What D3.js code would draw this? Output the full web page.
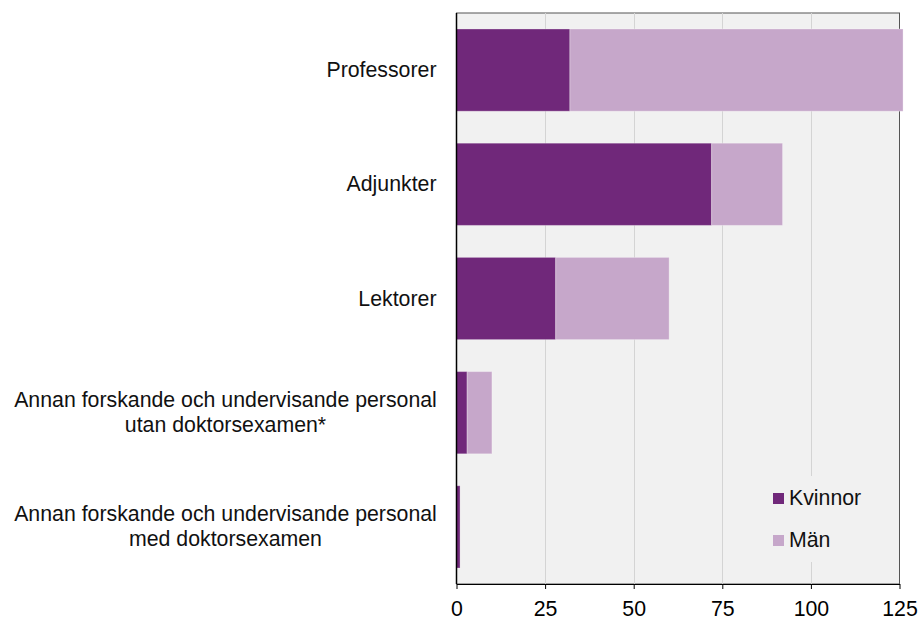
<!DOCTYPE html>
<html>
<head>
<meta charset="utf-8">
<script src="https://cdn.jsdelivr.net/npm/d3@7"></script>
<style>
  body { margin: 0; background: #fff; }
  svg { display: block; font-family: "Liberation Sans", Arial, sans-serif; }
</style>
</head>
<body>
<div id="chart"></div>
<script>
// categories (top to bottom)
const categories = [
  "Professorer",
  "Adjunkter",
  "Lektorer",
  "Annan forskande och undervisande personal|utan doktorsexamen*",
  "Annan forskande och undervisande personal|med doktorsexamen"
];
const kvinnor = [32, 72, 28, 3, 1];
const man = [94, 20, 32, 7, 0];
const seriesNames = ["Kvinnor", "Män"];
const tickValues = [0, 25, 50, 75, 100, 125];

// SIZE
const width = 922, height = 617;
const plotLeft = 456.5, plotRight = 899.5, plotTop = 13, plotBottom = 584;
const colorK = "#70287a", colorM = "#c6a7ca";
const fontSize = 21.3;

const svg = d3.select("#chart").append("svg")
  .attr("width", width)
  .attr("height", height);

const x = d3.scaleLinear().domain([0, 125]).range([plotLeft, plotRight]);
const y = d3.scaleBand().domain(categories).range([plotTop, plotBottom])
  .paddingInner(0.28).paddingOuter(0.14);

// plot background + frame
svg.append("rect")
  .attr("x", plotLeft).attr("y", plotTop)
  .attr("width", plotRight - plotLeft).attr("height", plotBottom - plotTop)
  .attr("fill", "#f1f1f1")
  .attr("stroke", "#555").attr("stroke-width", 1);

// grid lines
svg.append("g").selectAll("line")
  .data(tickValues.slice(1, -1))
  .enter().append("line")
  .attr("x1", d => Math.round(x(d)) + 0.5).attr("x2", d => Math.round(x(d)) + 0.5)
  .attr("y1", plotTop).attr("y2", plotBottom)
  .attr("stroke", "#d4d4d4").attr("stroke-width", 1);

// stacked data
const rows = categories.map((c, i) => ({ cat: c, Kvinnor: kvinnor[i], "Män": man[i] }));
const stacked = d3.stack().keys(seriesNames)(rows);
const colors = d3.scaleOrdinal().domain(seriesNames).range([colorK, colorM]);

svg.append("g").selectAll("g")
  .data(stacked)
  .enter().append("g")
  .attr("fill", d => colors(d.key))
  .selectAll("rect")
  .data(d => d)
  .enter().append("rect")
  .attr("x", d => x(d[0]))
  .attr("y", d => y(d.data.cat))
  .attr("width", d => Math.max(0, x(d[1]) - x(d[0])))
  .attr("height", y.bandwidth())
  .attr("stroke", "#fff").attr("stroke-opacity", 0.3).attr("stroke-width", 1);

// x axis
const xAxis = svg.append("g")
  .attr("transform", `translate(0,${plotBottom})`)
  .call(d3.axisBottom(x).tickValues(tickValues).tickSize(5).tickSizeOuter(0).tickPadding(12));
xAxis.select(".domain").attr("stroke", "#000");
xAxis.selectAll(".tick line").attr("stroke", "#000");
xAxis.selectAll("text")
  .attr("font-size", fontSize)
  .attr("font-family", "Liberation Sans, Arial, sans-serif")
  .attr("fill", "#000");

// left axis line
svg.append("line")
  .attr("x1", plotLeft).attr("x2", plotLeft)
  .attr("y1", plotTop).attr("y2", plotBottom)
  .attr("stroke", "#000").attr("stroke-width", 1.5);

// category labels
svg.append("g").selectAll("text")
  .data(categories)
  .enter().append("text")
  .attr("text-anchor", "middle")
  .attr("font-size", fontSize)
  .attr("fill", "#111")
  .each(function (d) {
    const lines = d.split("|");
    const t = d3.select(this);
    const cy = y(d) + y.bandwidth() / 2;
    const lh = 25;
    const y0 = cy + 7 - (lines.length - 1) * lh / 2;
    if (lines.length === 1) {
      t.attr("text-anchor", "end");
      t.append("tspan").attr("x", plotLeft - 20).attr("y", y0).text(lines[0]);
    } else {
      // centre of the longest line, right aligned to the axis
      const cx = plotLeft - 20 - 211;
      lines.forEach((l, k) => {
        t.append("tspan").attr("x", cx).attr("y", y0 + k * lh).text(l);
      });
    }
  });

// legend
const legend = svg.append("g").attr("transform", "translate(766,476)");
legend.append("rect")
  .attr("width", 118).attr("height", 86)
  .attr("fill", "#f1f1f1");
const li = legend.selectAll("g")
  .data(seriesNames)
  .enter().append("g")
  .attr("transform", (d, i) => `translate(7,${17 + i * 42})`);
li.append("rect")
  .attr("width", 11).attr("height", 11)
  .attr("fill", d => colors(d));
li.append("text")
  .attr("x", 16).attr("y", 12)
  .attr("font-size", fontSize)
  .attr("fill", "#111")
  .text(d => d);
</script>
</body>
</html>
